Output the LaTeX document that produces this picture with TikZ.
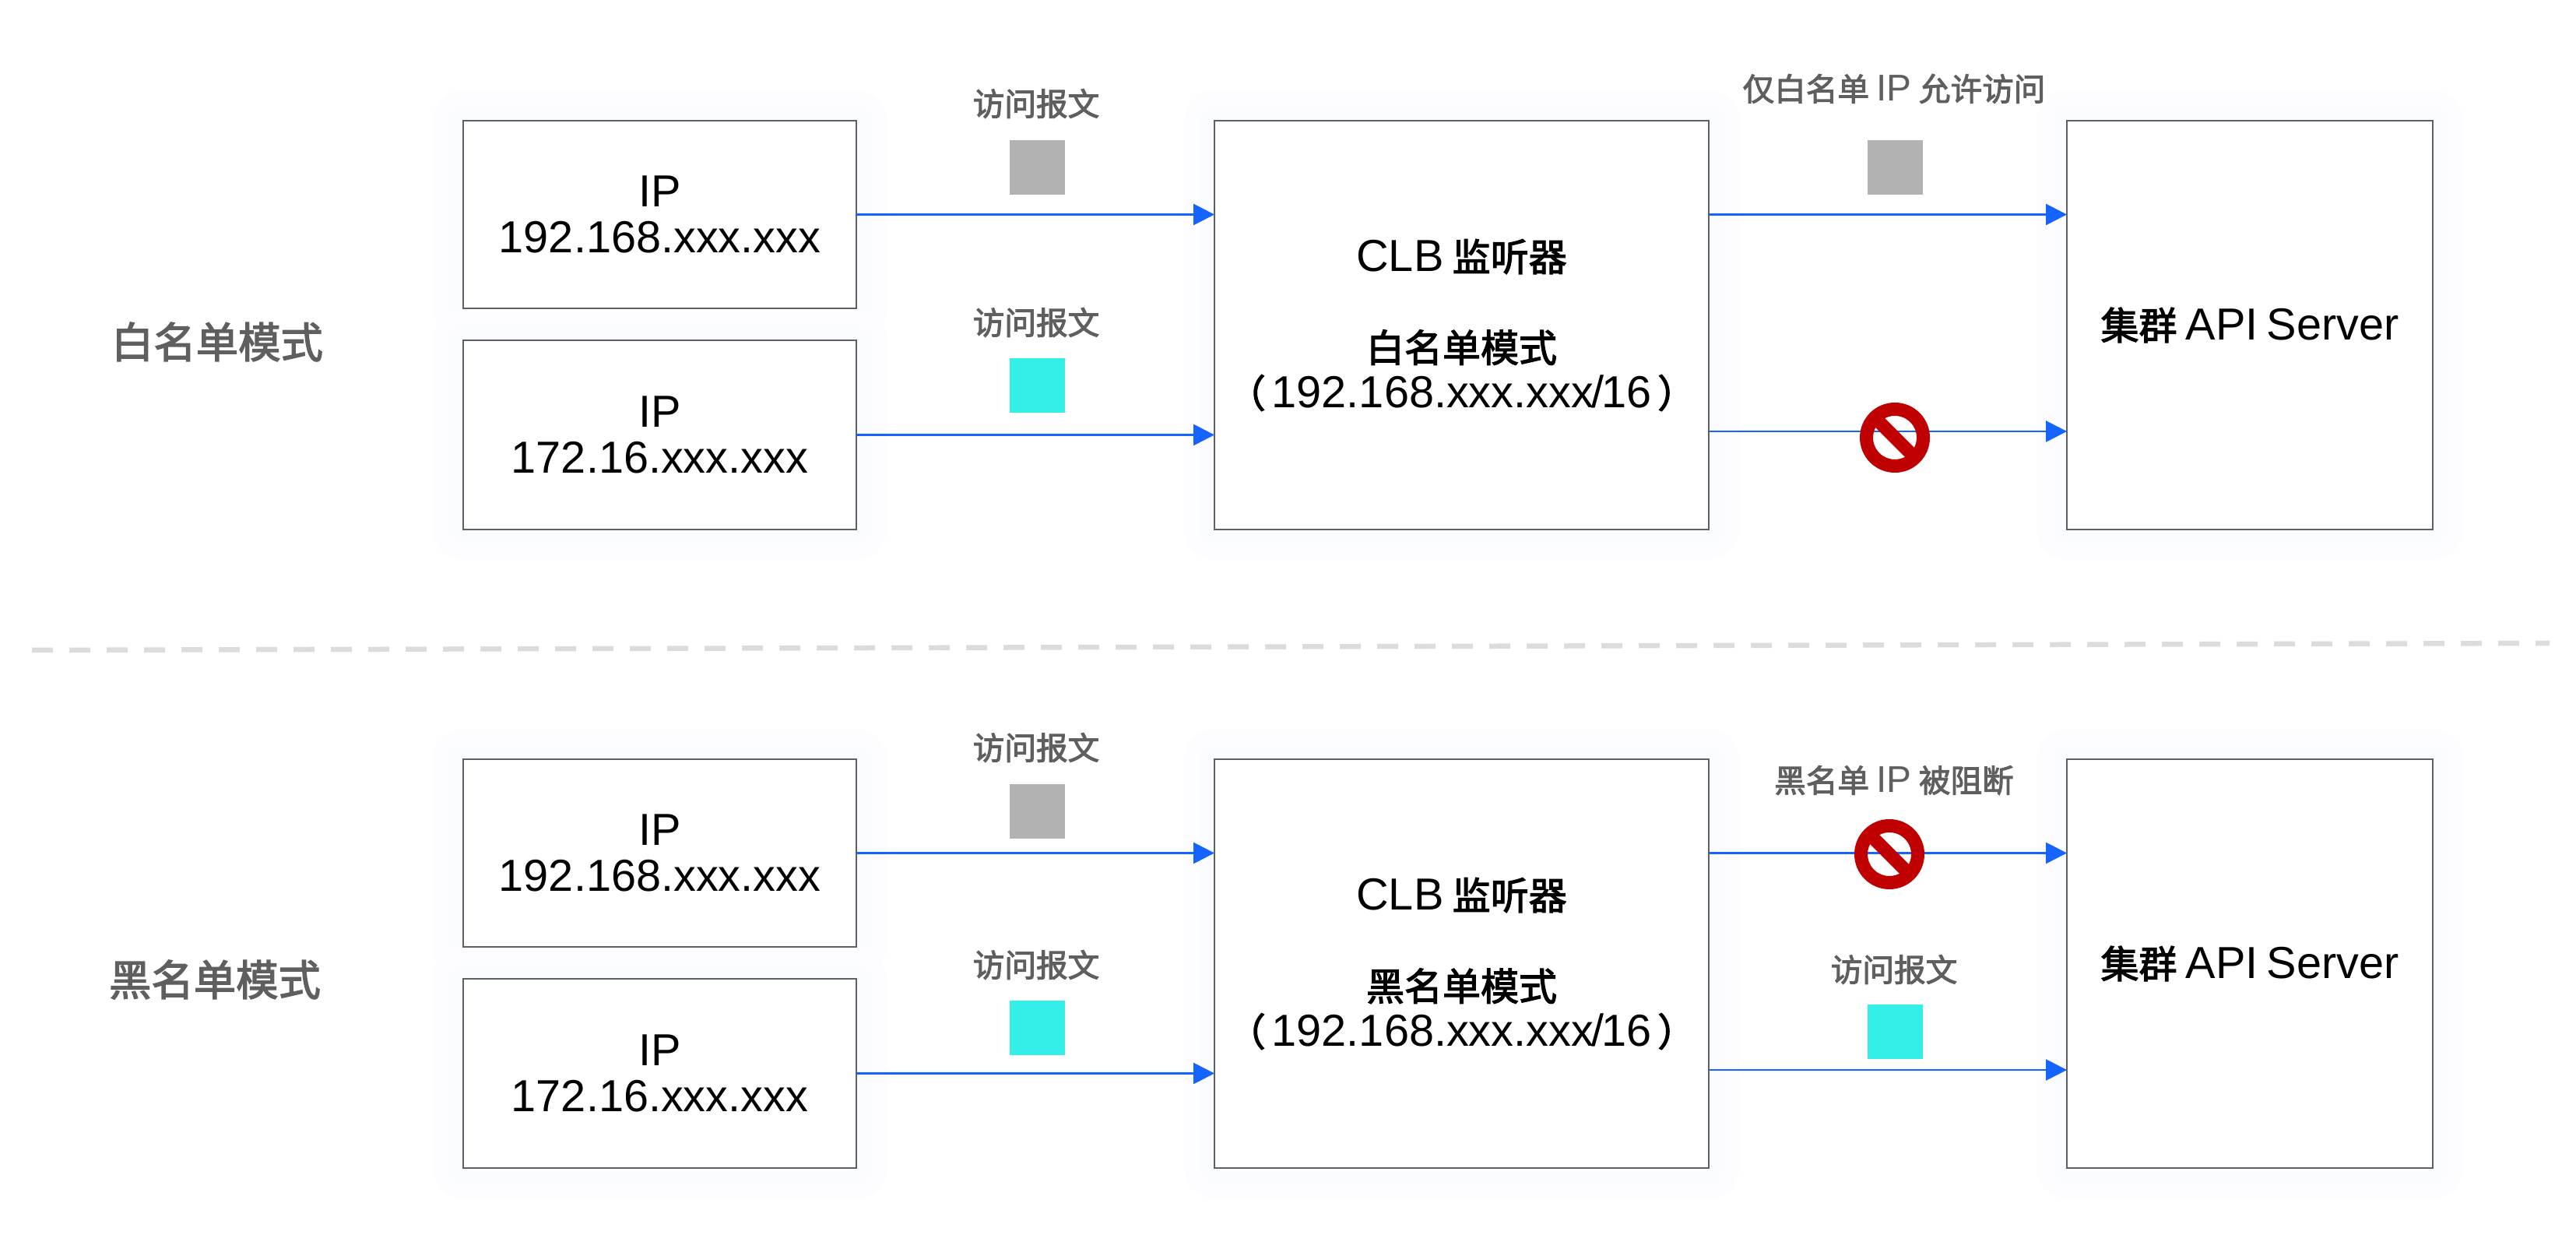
\documentclass[tikz,border=0pt]{standalone}
\usepackage{fontspec}
\setmainfont[WordSpace=0.7]{Liberation Sans}
\newfontfamily\cjk[Scale=0.85,FakeBold=2.5]{Noto Sans CJK SC}
\usetikzlibrary{arrows.meta,positioning,calc}
\definecolor{flowblue}{HTML}{1664FF}
\definecolor{edgegray}{HTML}{5C5F63}
\definecolor{glowa}{HTML}{FDFDFF}
\definecolor{glowb}{HTML}{FBFCFF}
\definecolor{labelgray}{HTML}{5F5F5F}
\definecolor{pktgray}{HTML}{B2B2B2}
\definecolor{pktcyan}{HTML}{33EFE8}
\definecolor{stopred}{HTML}{C00000}
\definecolor{seprule}{HTML}{DCDCDC}
\tikzset{
  box/.style={draw=edgegray, line width=0.025cm, fill=white, align=center, inner sep=0pt, outer sep=0pt,
    font=\fontsize{16.4}{16.6}\selectfont,
    preaction={draw=glowa, line width=0.78cm, line join=round},
    preaction={draw=glowb, line width=0.4cm, line join=round}},
  flow/.style={draw=flowblue, line width=0.027cm, -{Triangle[length=0.27cm,width=0.27cm]}},
  tag/.style={text=labelgray, font=\fontsize{13.6}{15}\selectfont, inner sep=0pt},
  modetag/.style={text=labelgray, font=\fontsize{18.2}{20}\selectfont, inner sep=0pt},
  stopsign/.pic={
    \draw[stopred, line width=0.17cm] (0,0) circle (0.365);
    \draw[stopred, line width=0.17cm] (135:0.365) -- (-45:0.365);
  }
}
\begin{document}
\begin{tikzpicture}
  \useasboundingbox (0,0) rectangle (33.09,15.85);

  % both panels share the same boxes, lower one sits 8.2 further down
  \foreach \tag/\mode/\off in {w/白名单模式/0, b/黑名单模式/8.2} {
    \node[box, minimum width=5.05cm, minimum height=2.41cm] (ipa\tag) at (8.475,13.095-\off)
      {IP\\192.168.xxx.xxx};
    \node[box, minimum width=5.05cm, minimum height=2.43cm] (ipb\tag) at (8.475,10.265-\off)
      {IP\\172.16.xxx.xxx};
    \node[box, minimum width=6.35cm, minimum height=5.25cm] (clb\tag) at (18.775,11.675-\off)
      {CLB {\cjk 监听器}\\[16.6pt]{\cjk \mode}\\{\cjk （}\kern0.08cm 192.168.xxx.xxx\kern-0.03cm/\kern-0.03cm 16\kern0.08cm{\cjk ）}};
    \node[box, minimum width=4.7cm, minimum height=5.25cm] (api\tag) at (28.9,11.675-\off)
      {{\cjk 集群} API Server};
    \draw[flow] (ipa\tag) -- (ipa\tag -| clb\tag.west);
    \draw[flow] (ipb\tag) -- (ipb\tag -| clb\tag.west);
    \draw[flow] (clb\tag.east |- ipa\tag) -- (api\tag.west |- ipa\tag);
  }

  % lower outgoing arrows
  \coordinate (wlow) at (0,10.31);
  \coordinate (blow) at (0,2.11);
  \draw[flow] (clbw.east |- wlow) -- (apiw.west |- wlow);
  \draw[flow] (clbb.east |- blow) -- (apib.west |- blow);

  % packets
  \foreach \x/\y/\col in {12.97/13.35/pktgray, 12.97/10.55/pktcyan, 23.99/13.35/pktgray,
                          12.97/5.08/pktgray, 12.97/2.30/pktcyan, 23.99/2.25/pktcyan} {
    \fill[\col] (\x,\y) rectangle (\x+0.71,\y+0.70);
  }

  % labels over the arrows
  \foreach \lbl/\x/\y in {visa/13.31/14.52, visb/13.31/11.71, visc/13.31/6.25, visd/13.31/3.46, vise/24.33/3.40} {
    \node[tag] (\lbl) at (\x,\y) {\cjk 访问报文};
  }
  \node[tag] (allowtag) at (24.33,14.71) {{\cjk 仅白名单} IP {\cjk 允许访问}};
  \node[tag] (blocktag) at (24.33,5.83) {{\cjk 黑名单} IP {\cjk 被阻断}};

  \pic at (24.34,10.23) {stopsign};
  \pic at (24.27,4.88) {stopsign};

  \node[modetag] (whitemode) at (2.79,11.46) {\cjk 白名单模式};
  \node[modetag] (blackmode) at (2.76,3.27) {\cjk 黑名单模式};

  % separator
  \coordinate (sepl) at (0.41,7.50);
  \coordinate (sepr) at (32.75,7.59);
  \draw[seprule, line width=0.065cm, dash pattern=on 0.27cm off 0.21cm] (sepl) -- (sepr);
\end{tikzpicture}
\end{document}
